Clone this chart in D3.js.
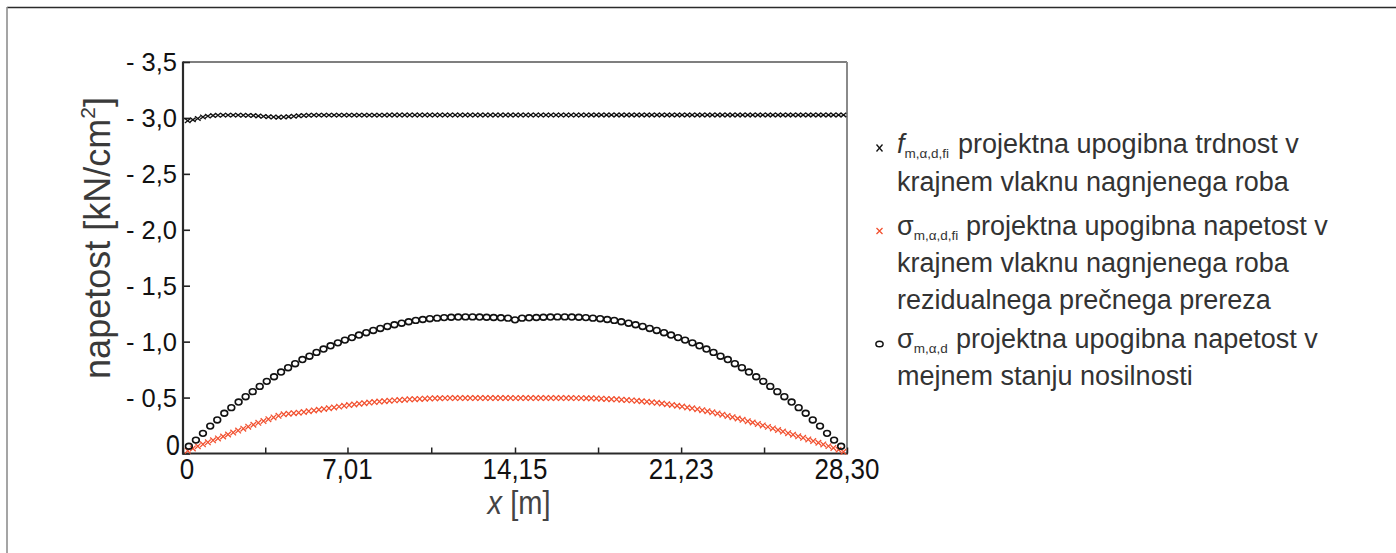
<!DOCTYPE html>
<html>
<head>
<meta charset="utf-8">
<script src="https://cdn.jsdelivr.net/npm/d3@7"></script>
<style>
  html, body { margin: 0; padding: 0; background: #fff; }
  svg { display: block; font-family: "Liberation Sans", Arial, sans-serif; }
</style>
</head>
<body>
<svg id="chart" width="1396" height="553"></svg>
<script>
// ---------- DATA ----------
// x positions [m] of the two fire-case series (x markers)
const xFire = [0.20,0.42,0.63,0.85,1.06,1.28,1.49,1.71,1.92,2.14,2.35,2.57,2.78,3.00,3.21,3.43,3.64,3.86,4.07,4.29,
4.50,4.72,4.93,5.15,5.36,5.58,5.79,6.01,6.22,6.44,6.65,6.87,7.08,7.30,7.51,7.73,7.94,8.16,8.37,8.59,
8.80,9.02,9.23,9.45,9.66,9.88,10.09,10.31,10.52,10.74,10.95,11.17,11.38,11.60,11.81,12.03,12.24,12.46,12.67,12.89,
13.10,13.32,13.53,13.75,13.96,14.18,14.39,14.61,14.82,15.04,15.25,15.47,15.68,15.90,16.11,16.33,16.54,16.76,16.97,17.19,
17.40,17.62,17.83,18.05,18.26,18.48,18.69,18.91,19.12,19.34,19.55,19.77,19.98,20.20,20.41,20.63,20.84,21.06,21.27,21.49,
21.70,21.92,22.13,22.35,22.56,22.78,22.99,23.21,23.42,23.64,23.85,24.07,24.28,24.50,24.71,24.93,25.14,25.36,25.57,25.79,
26.00,26.22,26.43,26.65,26.86,27.08,27.29,27.51,27.72,27.94,28.15];

// f_m,α,d,fi  design bending strength (shown as negative, magnitude in kN/cm²)
const fStrength = [2.975,2.983,2.995,3.008,3.016,3.021,3.024,3.025,3.025,3.025,3.025,3.024,3.023,3.021,3.018,3.014,3.010,3.008,3.007,3.008,
3.011,3.015,3.019,3.022,3.024,3.025,3.025,3.025,3.025,3.025,3.025,3.025,3.025,3.025,3.025,3.025,3.025,3.025,3.025,3.025,
3.026,3.026,3.026,3.026,3.026,3.026,3.026,3.026,3.026,3.026,3.026,3.026,3.026,3.026,3.026,3.026,3.026,3.026,3.026,3.026,
3.026,3.026,3.026,3.026,3.026,3.026,3.026,3.026,3.026,3.026,3.026,3.026,3.026,3.026,3.026,3.026,3.026,3.026,3.026,3.026,
3.027,3.027,3.027,3.027,3.027,3.027,3.027,3.027,3.027,3.027,3.027,3.027,3.027,3.027,3.027,3.027,3.027,3.027,3.027,3.027,
3.027,3.027,3.027,3.027,3.027,3.027,3.027,3.027,3.027,3.027,3.027,3.027,3.027,3.027,3.027,3.027,3.027,3.027,3.027,3.027,
3.027,3.027,3.027,3.027,3.027,3.027,3.027,3.027,3.027,3.027,3.027];

// σ_m,α,d,fi  design bending stress, residual cross-section
const sigmaFire = [0.025,0.045,0.065,0.082,0.100,0.118,0.135,0.152,0.170,0.187,0.205,0.222,0.240,0.257,0.274,0.290,0.307,0.322,0.337,0.350,
0.356,0.360,0.365,0.370,0.378,0.385,0.391,0.398,0.405,0.412,0.419,0.426,0.433,0.439,0.445,0.450,0.455,0.460,0.464,0.468,
0.472,0.475,0.478,0.481,0.484,0.486,0.488,0.490,0.492,0.493,0.494,0.495,0.496,0.496,0.496,0.496,0.496,0.496,0.496,0.496,
0.496,0.496,0.496,0.496,0.496,0.495,0.496,0.496,0.496,0.496,0.496,0.496,0.496,0.496,0.496,0.496,0.496,0.495,0.495,0.494,
0.493,0.492,0.490,0.488,0.486,0.484,0.481,0.478,0.475,0.471,0.467,0.463,0.458,0.453,0.447,0.441,0.434,0.427,0.420,0.412,
0.404,0.396,0.387,0.378,0.368,0.358,0.347,0.336,0.325,0.313,0.301,0.289,0.277,0.264,0.251,0.238,0.224,0.210,0.196,0.182,
0.168,0.154,0.140,0.126,0.111,0.096,0.081,0.066,0.050,0.034,0.015];

// x positions [m] of the ULS series (circles)
const xUls = [0.25,0.55,0.85,1.16,1.46,1.76,2.06,2.37,2.67,2.97,3.27,3.57,3.88,4.18,4.48,4.78,5.09,5.39,5.69,5.99,
6.29,6.60,6.90,7.20,7.50,7.81,8.11,8.41,8.71,9.01,9.32,9.62,9.92,10.22,10.52,10.83,11.13,11.43,11.73,12.04,
12.34,12.64,12.94,13.24,13.55,13.85,14.15,14.45,14.75,15.06,15.36,15.66,15.96,16.27,16.57,16.87,17.17,17.47,17.78,18.08,
18.38,18.68,18.99,19.29,19.59,19.89,20.19,20.50,20.80,21.10,21.40,21.71,22.01,22.31,22.61,22.91,23.22,23.52,23.82,24.12,
24.43,24.73,25.03,25.33,25.63,25.94,26.24,26.54,26.84,27.15,27.45,27.75,28.05];

// σ_m,α,d  design bending stress at ultimate limit state
const sigmaUls = [0.065,0.120,0.180,0.245,0.300,0.360,0.410,0.460,0.508,0.553,0.600,0.645,0.686,0.728,0.767,0.803,0.840,0.870,0.904,0.934,
0.963,0.989,1.014,1.036,1.059,1.080,1.100,1.118,1.136,1.151,1.165,1.178,1.190,1.198,1.205,1.210,1.215,1.218,1.220,1.221,
1.221,1.220,1.218,1.216,1.213,1.210,1.195,1.210,1.213,1.216,1.218,1.220,1.221,1.221,1.220,1.218,1.215,1.210,1.205,1.198,
1.190,1.178,1.165,1.151,1.136,1.118,1.100,1.080,1.059,1.036,1.014,0.989,0.963,0.934,0.904,0.870,0.840,0.803,0.767,0.728,
0.686,0.645,0.600,0.553,0.508,0.460,0.410,0.360,0.300,0.245,0.180,0.120,0.065];

// axis ticks and labels
const yTicks = [0, 0.5, 1.0, 1.5, 2.0, 2.5, 3.0, 3.5];
const yTickLabels = ["0", "- 0,5", "- 1,0", "- 1,5", "- 2,0", "- 2,5", "- 3,0", "- 3,5"];
const xTicks = [0, 3.505, 7.01, 10.58, 14.15, 17.69, 21.23, 24.765, 28.30];
const xLabelValues = [0, 7.01, 14.15, 21.23, 28.30];
const xTickLabels = ["0", "7,01", "14,15", "21,23", "28,30"];

// ---------- DRAWING ----------
const svg = d3.select("#chart");
const FONT = '"Liberation Sans", Arial, sans-serif';

const x = d3.scaleLinear().domain([0, 28.30]).range([183, 847]);
const y = d3.scaleLinear().domain([0, 3.5]).range([453.5, 62]);

// outer frame fragments (top and left edge)
svg.append("line").attr("x1", 7).attr("x2", 1396).attr("y1", 7.5).attr("y2", 7.5)
  .attr("stroke", "#2b2b2b").attr("stroke-width", 1.5);
svg.append("line").attr("x1", 7).attr("x2", 7).attr("y1", 7).attr("y2", 553)
  .attr("stroke", "#8f8f8f").attr("stroke-width", 1.6);

// plot frame: top + right (lighter)
svg.append("line").attr("x1", x(0)).attr("x2", x(28.30)).attr("y1", y(3.5)).attr("y2", y(3.5))
  .attr("stroke", "#555").attr("stroke-width", 1.3);
svg.append("line").attr("x1", x(28.30)).attr("x2", x(28.30)).attr("y1", y(3.5)).attr("y2", y(0))
  .attr("stroke", "#8a8a8a").attr("stroke-width", 2);

// Y axis (ticks pointing inwards)
const yAxis = d3.axisRight(y).tickValues(yTicks).tickSize(7).tickFormat("");
const gy = svg.append("g").attr("transform", `translate(${x(0)},0)`).call(yAxis);
gy.select(".domain").remove();
gy.selectAll(".tick line").attr("stroke", "#222").attr("stroke-width", 1.6);
svg.append("line").attr("x1", x(0)).attr("x2", x(0)).attr("y1", y(3.5) - 0.5).attr("y2", y(0) + 1)
  .attr("stroke", "#2a2a2a").attr("stroke-width", 2.2);

// y tick labels
yTicks.forEach((v, i) => {
  if (i === 0) {
    svg.append("text").attr("transform", `translate(173,455) scale(0.86,1)`)
      .attr("text-anchor", "middle").attr("font-size", 29).attr("fill", "#111")
      .attr("font-family", FONT).text(yTickLabels[i]);
  } else {
    svg.append("text").attr("x", 177).attr("y", y(v) + 9)
      .attr("text-anchor", "end").attr("font-size", 25.5).attr("fill", "#111")
      .attr("font-family", FONT).text(yTickLabels[i]);
  }
});

// X axis (ticks pointing inwards)
const xAxis = d3.axisTop(x).tickValues(xTicks).tickSize(6).tickFormat("");
const gx = svg.append("g").attr("transform", `translate(0,${y(0)})`).call(xAxis);
gx.select(".domain").remove();
gx.selectAll(".tick line").attr("stroke", "#222").attr("stroke-width", 1.5);
svg.append("line").attr("x1", x(0) - 1).attr("x2", x(28.30) + 1).attr("y1", y(0)).attr("y2", y(0))
  .attr("stroke", "#2a2a2a").attr("stroke-width", 2.2);

xLabelValues.forEach((v, i) => {
  const px = x(v) + (i === 0 ? 4 : 0);
  svg.append("text").attr("transform", `translate(${px},479) scale(0.88,1)`)
    .attr("text-anchor", "middle").attr("font-size", 29.5).attr("fill", "#111")
    .attr("font-family", FONT).text(xTickLabels[i]);
});

// axis titles
const xt = svg.append("text").attr("transform", "translate(519,514) scale(0.88,1)")
  .attr("text-anchor", "middle").attr("font-size", 33).attr("fill", "#444").attr("font-family", FONT);
xt.append("tspan").attr("font-style", "italic").text("x");
xt.append("tspan").text(" [m]");

const yt = svg.append("text").attr("transform", "translate(110,238) rotate(-90)")
  .attr("text-anchor", "middle").attr("font-size", 36).attr("fill", "#3a3a3a").attr("font-family", FONT);
yt.append("tspan").text("napetost [kN/cm");
yt.append("tspan").attr("font-size", 21).attr("dy", -15).text("2");
yt.append("tspan").attr("dy", 15).text("]");

// ---------- MARKS ----------
const crossTop = "M-2.8,-2.2 L2.8,2.2 M-2.8,2.2 L2.8,-2.2";
const crossRed = "M-2.8,-2.8 L2.8,2.8 M-2.8,2.8 L2.8,-2.8";
const RED = "#f2502f";

// red x: residual section stress
svg.append("g").selectAll("path").data(sigmaFire).join("path")
  .attr("transform", (d, i) => `translate(${x(xFire[i])},${y(d)})`)
  .attr("d", crossRed).attr("fill", "none").attr("stroke", RED).attr("stroke-width", 1.25);

// circles: ULS stress
svg.append("g").selectAll("ellipse").data(sigmaUls).join("ellipse")
  .attr("cx", (d, i) => x(xUls[i])).attr("cy", d => y(d))
  .attr("rx", 3.4).attr("ry", 2.9)
  .attr("fill", "none").attr("stroke", "#111").attr("stroke-width", 1.6);

// black x: strength
svg.append("g").selectAll("path").data(fStrength).join("path")
  .attr("transform", (d, i) => `translate(${x(xFire[i])},${y(d)})`)
  .attr("d", crossTop).attr("fill", "none").attr("stroke", "#111").attr("stroke-width", 1.35);

// ---------- LEGEND ----------
const LC = "#333";
const LF = 27;
function legendLine(yBase, parts, xStart) {
  const t = svg.append("text").attr("x", xStart).attr("y", yBase)
    .attr("font-size", LF).attr("fill", LC).attr("font-family", FONT);
  parts.forEach(p => {
    const s = t.append("tspan").text(p.text);
    if (p.italic) s.attr("font-style", "italic");
    if (p.size) s.attr("font-size", p.size);
    if (p.dy) s.attr("dy", p.dy);
    if (p.x) s.attr("x", p.x);
  });
}
// entry 1
svg.append("path").attr("transform", "translate(879.5,148)").attr("d", "M-3,-3.5 L3,3.5 M-3,3.5 L3,-3.5")
  .attr("stroke", "#111").attr("stroke-width", 1.3).attr("fill", "none");
legendLine(153, [
  { text: "f", italic: true },
  { text: "m,α,d,fi", size: 13.5, dy: 5 },
  { text: "projektna upogibna trdnost v", dy: -5, x: 958 }
], 897);
legendLine(190.5, [{ text: "krajnem vlaknu nagnjenega roba" }], 897);
// entry 2
svg.append("path").attr("transform", "translate(879.5,231)").attr("d", "M-3,-3 L3,3 M-3,3 L3,-3")
  .attr("stroke", RED).attr("stroke-width", 1.3).attr("fill", "none");
legendLine(235, [
  { text: "σ" },
  { text: "m,α,d,fi", size: 13.5, dy: 5 },
  { text: "projektna upogibna napetost v", dy: -5, x: 966 }
], 897);
legendLine(271.5, [{ text: "krajnem vlaknu nagnjenega roba" }], 897);
legendLine(308.5, [{ text: "rezidualnega prečnega prereza" }], 897);
// entry 3
svg.append("ellipse").attr("cx", 879.5).attr("cy", 344).attr("rx", 3.6).attr("ry", 2.8)
  .attr("stroke", "#111").attr("stroke-width", 1.5).attr("fill", "none");
legendLine(348, [
  { text: "σ" },
  { text: "m,α,d", size: 13.5, dy: 5 },
  { text: "projektna upogibna napetost v", dy: -5, x: 956 }
], 897);
legendLine(385, [{ text: "mejnem stanju nosilnosti" }], 897);
</script>
</body>
</html>
